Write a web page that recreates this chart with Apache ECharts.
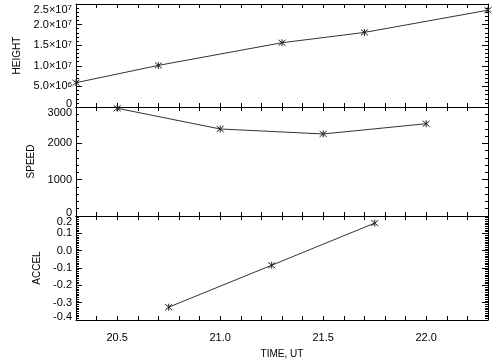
<!DOCTYPE html>
<html>
<head>
<meta charset="utf-8">
<script src="https://cdn.jsdelivr.net/npm/echarts@6/dist/echarts.min.js"></script>
<style>html,body{margin:0;padding:0;background:#fff;}#c{width:504px;height:360px;}</style>
</head>
<body>
<div id="c"></div>
<script>
// ---- data ----
var heightTime = [20.3, 20.7, 21.3, 21.7, 22.3];
var heightVal  = [5.9e6, 1.01e7, 1.56e7, 1.81e7, 2.35e7];
var speedTime  = [20.5, 21.0, 21.5, 22.0];
var speedVal   = [2965, 2395, 2258, 2540];
var accelTime  = [20.75, 21.25, 21.75];
var accelVal   = [-0.326, -0.084, 0.159];
var xLabelTicks = [20.5, 21.0, 21.5, 22.0];
var panelNames = ['HEIGHT', 'SPEED', 'ACCEL'];

var FONT = 'Liberation Sans';
var chart = echarts.init(document.getElementById('c'), null, {renderer: 'canvas'});

function pairs(xs, ys) { return xs.map(function (x, i) { return [x, ys[i]]; }); }

var grids = [
  {left: 76, right: 16, top: 4, height: 103},
  {left: 76, right: 16, top: 107, height: 109},
  {left: 76, right: 16, top: 216, height: 107}
];
var yCfg = [
  {min: 0, max: 2.5e7, interval: 5e6, minor: 5, gap: 54},
  {min: 0, max: 3000, interval: 1000, minor: 5, gap: 38},
  {min: -0.4, max: 0.2, interval: 0.1, minor: 10, gap: 32}
];

function yFormatter(i) {
  var mn = yCfg[i].min;
  function wrap(v, txt) { return (Math.abs(v - mn) < 1e-9 ? '{bm|' : '{b|') + txt + '}'; }
  if (i === 0) {
    return function (v) {
      if (v === 0) return wrap(v, '0');
      var e = Math.floor(Math.log10(v) + 1e-9);
      var m = v / Math.pow(10, e);
      return '{b|' + m.toFixed(1) + '×10}{s|' + e + '}';
    };
  }
  if (i === 1) return function (v) { return wrap(v, String(Math.round(v))); };
  return function (v) { return wrap(v, Math.abs(v) < 1e-9 ? '0.0' : v.toFixed(1)); };
}

var xAxes = [], yAxes = [], series = [];
var lineC = '#000';
for (var i = 0; i < 3; i++) {
  ['bottom', 'top'].forEach(function (pos) {
    var showLab = (i === 2 && pos === 'bottom');
    xAxes.push({
      type: 'value', gridIndex: i, position: pos, min: 20.3, max: 22.3, interval: 0.1,
      axisLine: {show: true, onZero: false, lineStyle: {color: lineC, width: 1}},
      axisTick: {show: true, inside: true, length: 4, lineStyle: {color: lineC}},
      splitLine: {show: false},
      axisLabel: {show: showLab, customValues: xLabelTicks, margin: 12, color: '#000', fontFamily: FONT, fontSize: 11,
        formatter: function (v) { return v.toFixed(1); }},
      name: showLab ? 'TIME, UT' : '', nameLocation: 'middle', nameGap: 29,
      nameTextStyle: {color: '#000', fontFamily: FONT, fontSize: 10}
    });
  });
  ['left', 'right'].forEach(function (pos) {
    var c = yCfg[i];
    var showLab = pos === 'left';
    yAxes.push({
      type: 'value', gridIndex: i, position: pos, min: c.min, max: c.max, interval: c.interval,
      axisLine: {show: true, onZero: false, lineStyle: {color: lineC, width: 1}},
      axisTick: {show: true, inside: true, length: 6, lineStyle: {color: lineC}},
      minorTick: {show: true, splitNumber: c.minor, length: 3, lineStyle: {color: lineC}},
      splitLine: {show: false},
      axisLabel: {show: showLab, margin: 4, color: '#000', fontFamily: FONT, fontSize: 11,
        verticalAlignMinLabel: 'bottom', verticalAlignMaxLabel: 'top',
        formatter: yFormatter(i),
        rich: {
          b: {fontFamily: FONT, fontSize: 11, color: '#000'},
          bm: {fontFamily: FONT, fontSize: 11, color: '#000', lineHeight: 6},
          s: {fontFamily: FONT, fontSize: 8, color: '#000', verticalAlign: 'top', lineHeight: 8}
        }},
      name: showLab ? panelNames[i] : '', nameLocation: 'middle', nameGap: c.gap, nameRotate: 90,
      nameTextStyle: {color: '#000', fontFamily: FONT, fontSize: 10}
    });
  });
}

var datasets = [pairs(heightTime, heightVal), pairs(speedTime, speedVal), pairs(accelTime, accelVal)];
var star = 'path://M-1,-1L1,1M1,-1L-1,1M0,-1.2L0,1.2';
for (var k = 0; k < 3; k++) {
  series.push({
    type: 'line', xAxisIndex: k * 2, yAxisIndex: k * 2, data: datasets[k],
    symbol: star, symbolSize: 7, showSymbol: true,
    itemStyle: {color: 'rgba(0,0,0,0)', borderColor: '#222', borderWidth: 1},
    lineStyle: {color: '#333', width: 1}, animation: false, silent: true
  });
}

chart.setOption({
  backgroundColor: '#fff', animation: false,
  grid: grids, xAxis: xAxes, yAxis: yAxes, series: series
});
</script>
</body>
</html>
